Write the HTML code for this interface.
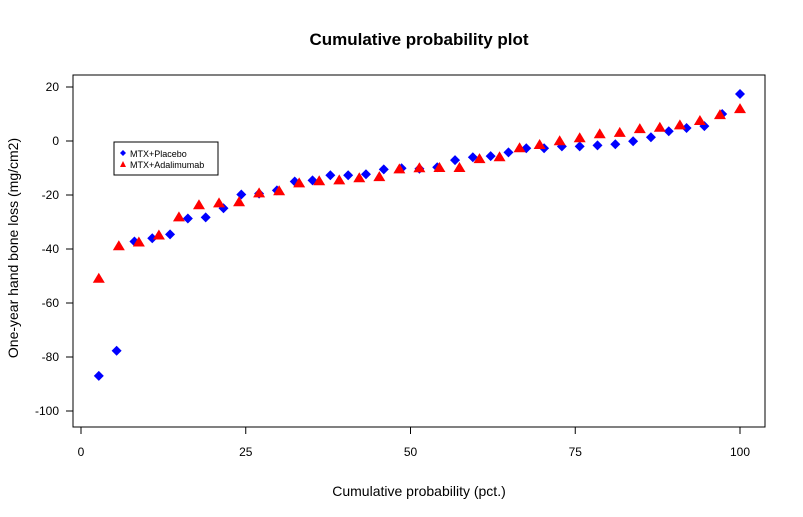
<!DOCTYPE html>
<html><head><meta charset="utf-8"><style>
body{margin:0;background:#fff;}
svg{display:block;font-family:"Liberation Sans",Arial,sans-serif;}
</style></head><body>
<svg id="chart" width="803" height="517" viewBox="0 0 803 517">
<rect width="803" height="517" fill="#fff"/>
<text x="419" y="45" text-anchor="middle" font-size="17" font-weight="bold">Cumulative probability plot</text>
<rect x="73" y="75" width="692" height="352" fill="none" stroke="#000" stroke-width="1"/>
<g id="xaxis"></g>
<g id="yaxis"></g>
<text x="419" y="496" text-anchor="middle" font-size="14">Cumulative probability (pct.)</text>
<text transform="translate(18,248) rotate(-90)" text-anchor="middle" font-size="14">One-year hand bone loss (mg/cm2)</text>
<g id="marks"></g>
<g>
<rect x="114" y="142" width="104" height="33" fill="#fff" stroke="#000" stroke-width="1"/>
<polygon points="123,150 126,153 123,156 120,153" fill="#0000ff"/>
<text x="130" y="157" font-size="9">MTX+Placebo</text>
<polygon points="123,161 126,167 120,167" fill="#ff0000"/>
<text x="130" y="168" font-size="9">MTX+Adalimumab</text>
</g>
</svg>
<script>
const xTicks = [0, 25, 50, 75, 100];
const yTicks = [20, 0, -20, -40, -60, -80, -100];
const placebo = [-87, -77.7, -37.2, -36, -34.6, -28.7, -28.3, -24.9, -19.8, -19.5, -18.3, -15, -14.6, -12.7, -12.7, -12.3, -10.5, -10.1, -10.3, -9.7, -7.1, -6, -5.6, -4.2, -2.7, -2.7, -2, -2, -1.6, -1.2, -0.1, 1.4, 3.6, 4.8, 5.5, 10, 17.4];
const adalimumab = [-51, -39, -37.6, -35, -28.3, -23.8, -23.1, -22.7, -19.4, -18.6, -15.7, -14.9, -14.6, -13.8, -13.4, -10.5, -10.1, -10, -10, -6.7, -6, -2.7, -1.5, -0.1, 1, 2.5, 3, 4.4, 4.9, 5.8, 7.4, 9.6, 11.8];
const NS = "http://www.w3.org/2000/svg";
const xS = v => 81 + v * 6.59;
const yS = v => 141 - v * 2.7;
function mk(tag, attrs, parent) {
  const e = document.createElementNS(NS, tag);
  for (const k in attrs) e.setAttribute(k, attrs[k]);
  parent.appendChild(e);
  return e;
}
const xa = document.getElementById('xaxis');
mk('line', {x1: xS(0), x2: xS(100), y1: 427, y2: 427, stroke: '#000'}, xa);
xTicks.forEach(t => {
  const l = mk('line', {x1: xS(t), x2: xS(t), y1: 427, y2: 434, stroke: '#000'}, xa);
  
  
  const tx = mk('text', {x: xS(t), y: 456, 'text-anchor': 'middle', 'font-size': 12}, xa);
  tx.textContent = t;
  
  
});
const ya = document.getElementById('yaxis');
mk('line', {x1: 73, x2: 73, y1: yS(20), y2: yS(-100), stroke: '#000'}, ya);
yTicks.forEach(t => {
  const l = mk('line', {x1: 66, x2: 73, y1: yS(t), y2: yS(t), stroke: '#000'}, ya);
  
  
  const tx = mk('text', {x: 59, y: yS(t) + 4, 'text-anchor': 'end', 'font-size': 12}, ya);
  tx.textContent = t;
  
  
});
const g = document.getElementById('marks');
placebo.forEach((v, i) => {
  const x = xS((i + 1) / placebo.length * 100), y = yS(v);
  const p = mk('polygon', {points: `${x},${y-5} ${x+5},${y} ${x},${y+5} ${x-5},${y}`, fill: '#0000ff'}, g);
  
  
});
adalimumab.forEach((v, i) => {
  const x = xS(2.7 + i / (adalimumab.length - 1) * 97.3), y = yS(v);
  const p = mk('polygon', {points: `${x},${y-6} ${x+6},${y+4} ${x-6},${y+4}`, fill: '#ff0000'}, g);
  
  
});
</script>
</body></html>
